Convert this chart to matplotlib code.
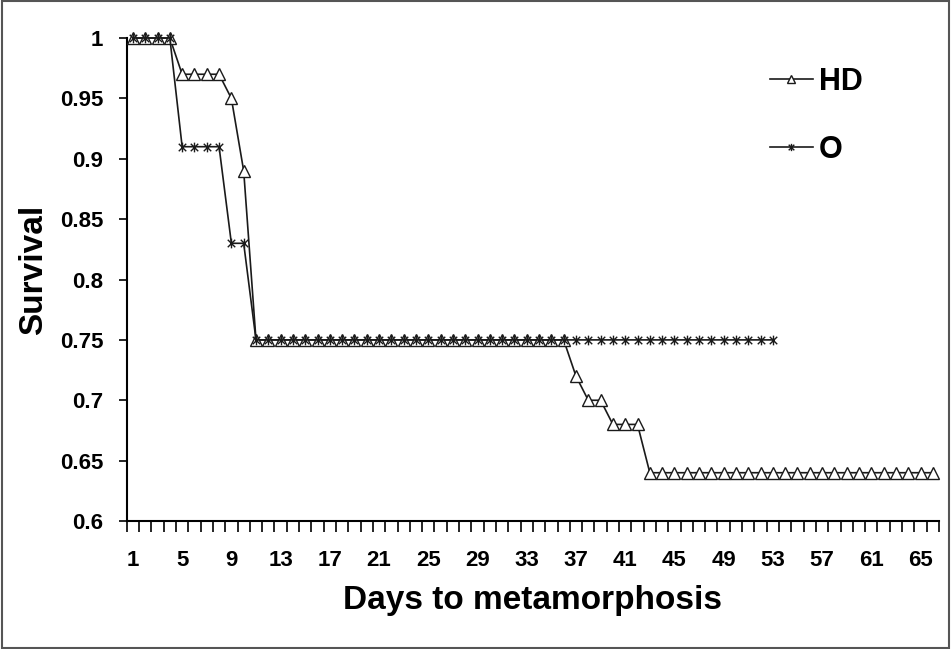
import matplotlib
matplotlib.use('Agg')
import matplotlib.pyplot as plt
from matplotlib.path import Path
from matplotlib.patches import Rectangle

plt.rcParams['font.family'] = ['Liberation Sans', 'DejaVu Sans']
plt.rcParams['font.weight'] = 'bold'

# survival per day, days 1..66 (HD) and 1..53 (O)
hd_days = list(range(1, 67))
hd_surv = ([1.0] * 4 + [0.97] * 4 + [0.95, 0.89] + [0.75] * 26
           + [0.72, 0.70, 0.70, 0.68, 0.68, 0.68] + [0.64] * 24)
o_days = list(range(1, 54))
o_surv = [1.0] * 4 + [0.91] * 4 + [0.83, 0.83] + [0.75] * 43

tick_days = list(range(1, 67, 4))
y_ticks = [0.6, 0.65, 0.7, 0.75, 0.8, 0.85, 0.9, 0.95, 1.0]
y_labels = ['0.6', '0.65', '0.7', '0.75', '0.8', '0.85', '0.9', '0.95', '1']

# excel style star marker: an x with a vertical bar
star = Path([(-1, -1), (1, 1), (-1, 1), (1, -1), (0, -1.3), (0, 1.3)],
            [Path.MOVETO, Path.LINETO, Path.MOVETO, Path.LINETO, Path.MOVETO, Path.LINETO])

fig = plt.figure(figsize=(9.51, 6.49), dpi=100)
ax = fig.add_axes([0.1333, 0.1972, 0.8541, 0.7442])

ax.plot(hd_days, hd_surv, color='#1a1a1a', lw=1.2, marker='^', ms=8,
        mfc='white', mec='#1a1a1a', mew=1.0, label='HD', clip_on=False, zorder=3)
ax.plot(o_days, o_surv, color='#1a1a1a', lw=1.2, marker=star, ms=7,
        mec='#1a1a1a', mew=1.0, label='O', clip_on=False, zorder=4)

ax.set_xlim(0.5, 66.5)
ax.set_ylim(0.6, 1.0)
ax.set_yticks(y_ticks)
ax.set_yticklabels(y_labels)
ax.set_xticks(tick_days)
ax.set_xticks([d + 0.5 for d in range(0, 67)], minor=True)
ax.tick_params(axis='x', which='major', length=0, pad=21, labelsize=16)
ax.tick_params(axis='x', which='minor', length=8, width=1.2, direction='out')
ax.tick_params(axis='y', length=6, width=1.2, direction='out', labelsize=16, pad=11)

for s in ['top', 'right']:
    ax.spines[s].set_visible(False)
for s in ['left', 'bottom']:
    ax.spines[s].set_linewidth(1.5)

ax.set_ylabel('Survival', fontsize=24, fontweight='bold')
ax.yaxis.set_label_coords(-0.096, 0.52)
ax.set_xlabel('Days to metamorphosis', fontsize=24, fontweight='bold', labelpad=10)

leg = ax.legend(loc='upper left', bbox_to_anchor=(770 / 951, 0.897),
                bbox_transform=fig.transFigure, frameon=False, fontsize=22,
                handlelength=1.4, handletextpad=0.2, labelspacing=1.25,
                borderpad=0, borderaxespad=0, markerscale=0.75)

# thin frame round the whole figure
fig.patches.append(Rectangle((0.002, 0.002), 0.996, 0.996, transform=fig.transFigure,
                             fill=False, edgecolor='#555555', lw=1.5))

fig.savefig('out.png', dpi=100)
